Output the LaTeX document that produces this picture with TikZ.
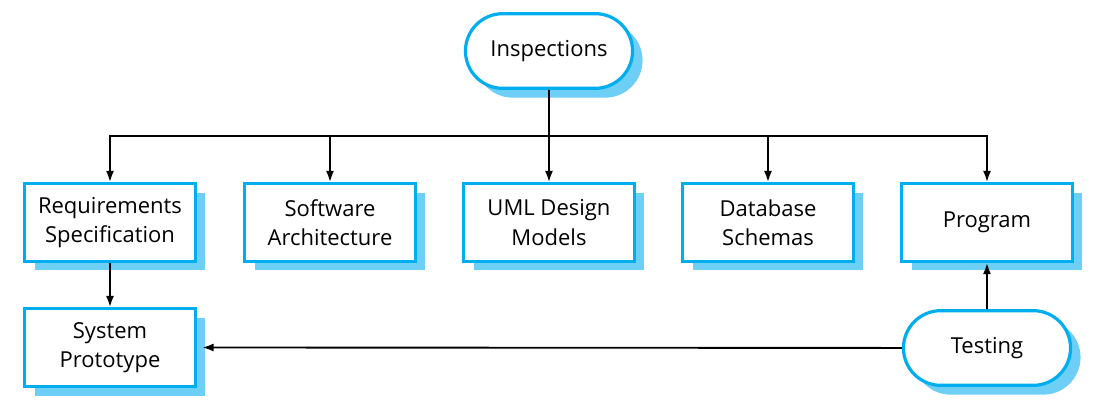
\documentclass[tikz,border=0pt]{standalone}
\usepackage{fontspec}
\setmainfont{Open Sans}
\usetikzlibrary{arrows.meta,shadows,shapes.misc}
\definecolor{boxblue}{RGB}{0,174,239}
\definecolor{shadeblue}{RGB}{109,207,246}
\tikzset{
	doc/.style={draw=boxblue, line width=2.4pt, fill=white,
		minimum width=128pt, minimum height=58pt, align=center,
		font=\fontsize{16.5}{22}\selectfont,
		drop shadow={shadow xshift=7.5pt, shadow yshift=-7pt, fill=shadeblue, opacity=1}},
	activity/.style={doc, rounded rectangle, minimum width=132pt, minimum height=56pt},
	arrow/.style={-{Latex[length=8.5pt,width=6pt]}, line width=1.4pt}
}

\begin{document}
\begin{tikzpicture}[x=0.75pt,y=0.75pt]
	\useasboundingbox (0,0) rectangle (1111,404);
	% activities
	\node[activity] (insp) at (549,353) {Inspections};
	\node[activity] (test) at (987,56) {Testing};
	% documents
	\node[doc] (req) at (110,181.5) {Requirements\\Specification};
	\node[doc] (arch) at (330,181.5) {Software\\Architecture};
	\node[doc] (uml) at (549,181.5) {UML Design\\Models};
	\node[doc] (db) at (768,181.5) {Database\\Schemas};
	\node[doc] (prog) at (987,181.5) {Program};
	\node[doc] (proto) at (110,56.5) {System\\Prototype};
	% connectors
	\coordinate (bus) at (549,268);
	\draw[line width=1.4pt] (insp) -- (bus);
	\foreach \n in {req,arch,uml,db,prog}
		\draw[arrow] (bus) -| (\n.north);
	\draw[arrow] (req) -- (proto);
	\draw[arrow] (test) -- (prog);
	\draw[arrow] (test) -- ([xshift=4pt]proto.east);
\end{tikzpicture}
\end{document}
